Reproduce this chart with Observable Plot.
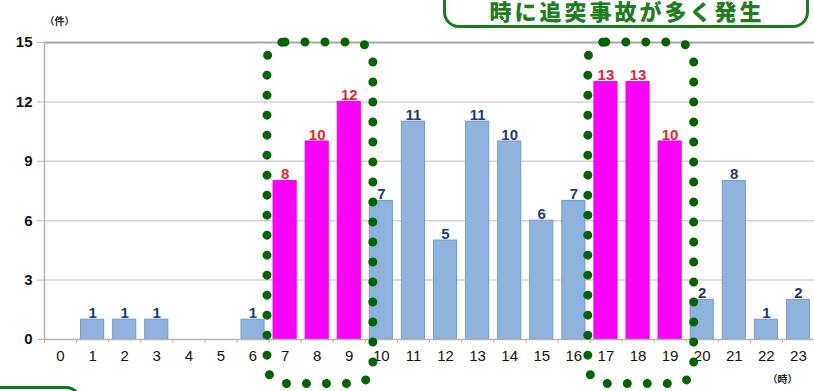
<!DOCTYPE html>
<html lang="ja">
<head>
<meta charset="utf-8">
<script src="https://cdn.jsdelivr.net/npm/d3@7"></script>
<script src="https://cdn.jsdelivr.net/npm/@observablehq/plot@0.6"></script>
<style>
  html, body { margin: 0; padding: 0; background: #fff; }
  #wrap { position: relative; width: 814px; height: 391px; overflow: hidden; }
  #wrap svg { position: absolute; left: 0; top: 0; overflow: visible; }
  .banner {
    position: absolute; left: 443px; top: -30px; width: 360px; height: 52px;
    border: 3px solid #1b7a1b; border-radius: 16px; background: #fff;
    box-sizing: content-box;
  }
  .banner-text {
    position: absolute; left: 447px; width: 360px; top: 2px;
    text-align: center;
    font-family: "Liberation Sans", "Noto Sans CJK JP", sans-serif; font-weight: 900;
    font-size: 22px; line-height: 22px; color: #1e7d1e; letter-spacing: 3px;
    white-space: nowrap;
  }
  .note {
    position: absolute; left: -30px; top: 386px; width: 106px; height: 40px;
    border: 3px solid #0f7a0f; border-radius: 16px;
  }
</style>
</head>
<body>
<div id="wrap">
  <div class="banner"></div>
  <div class="banner-text">時に追突事故が多く発生</div>
  <div class="note"></div>
</div>
<script>
// Rear-end collisions by hour of day (件)
const hours = d3.range(24);
const counts = [0, 1, 1, 1, 0, 0, 1, 8, 10, 12, 7, 11, 5, 11, 10, 6, 7, 13, 13, 10, 2, 8, 1, 2];
const peakHours = [7, 8, 9, 17, 18, 19];
const peakGroups = [[7, 9], [17, 19]];
const yTicks = [0, 3, 6, 9, 12, 15];
const yUnit = "（件）";
const xUnit = "（時）";

const rows = hours.map((h, i) => ({h, n: counts[i], peak: peakHours.includes(h)}));
const nonzero = rows.filter(d => d.n > 0);
const boundaries = d3.range(-0.5, 24, 1);

const num = "'Liberation Sans', Arial, sans-serif";
const cjk = "'Noto Sans CJK JP', sans-serif";

const chart = Plot.plot({
  width: 814,
  height: 391,
  marginLeft: 44,
  marginRight: 0,
  marginTop: 42,
  marginBottom: 52,
  style: {fontFamily: num, background: "transparent", color: "#111"},
  x: {domain: [-0.5, 23.5]},
  y: {domain: [0, 15]},
  marks: [
    Plot.ruleY([3, 6, 9, 12], {stroke: "#d2d2d2", strokeWidth: 1.5}),
    Plot.ruleY([15], {stroke: "#a8a8a8", strokeWidth: 2}),
    Plot.ruleX([-0.5], {y1: 0, y2: 15, stroke: "#b4b4b4", strokeWidth: 1.5}),
    Plot.rectY(nonzero, {
      x1: d => d.h - 0.36, x2: d => d.h + 0.36, y: "n",
      fill: d => d.peak ? "#ff00ff" : "#8fb3df",
      stroke: d => d.peak ? "#e600e6" : "#7598c6", strokeWidth: 1
    }),
    Plot.ruleY([0], {stroke: "#b4b4b4", strokeWidth: 1.5}),
    Plot.axisY(yTicks, {tickSize: 7, tickPadding: 5, fontSize: 15, fontWeight: "bold", stroke: "#b4b4b4", fill: "#111", label: null}),
    Plot.axisX(boundaries, {tickSize: 4, tickFormat: () => "", stroke: "#c0b0a8", label: null}),
    Plot.axisX(hours, {tickSize: 0, tickPadding: 11, fontSize: 15, fill: "#111", tickFormat: d => String(d), label: null}),
    Plot.text(nonzero, {
      x: "h", y: "n", text: d => String(d.n), dy: -2, lineAnchor: "bottom",
      fill: d => d.peak ? "#e3262b" : "#1f3a6b",
      fontSize: 15, fontWeight: "bold"
    }),
    Plot.rect(peakGroups, {
      x1: g => g[0] - 0.55, x2: g => g[1] + 0.75, y1: -2.25, y2: 15,
      fill: "none", stroke: "#006400", strokeWidth: 9,
      strokeDasharray: "0 20", strokeLinecap: "round", rx: 18
    }),
    Plot.text([yUnit], {frameAnchor: "top-left", dx: 0, dy: -25, fontFamily: cjk, fontSize: 10, fontWeight: "bold", fill: "#222"}),
    Plot.text([xUnit], {frameAnchor: "bottom-right", dx: -17, dy: 43, fontFamily: cjk, fontSize: 10, fontWeight: "bold", fill: "#222"})
  ]
});

document.getElementById("wrap").prepend(chart);
</script>
</body>
</html>
